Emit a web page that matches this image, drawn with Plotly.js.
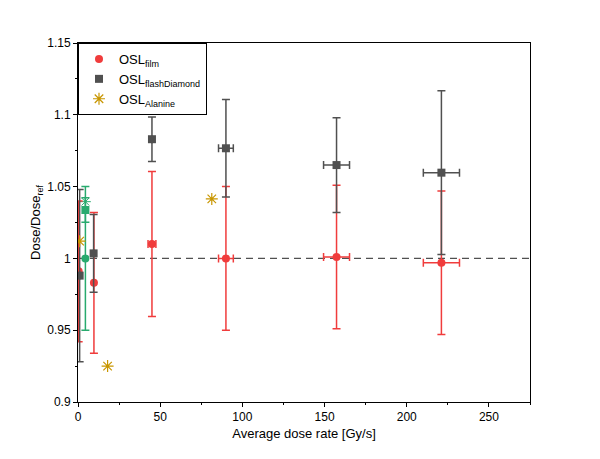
<!DOCTYPE html>
<html>
<head>
<meta charset="utf-8">
<script src="https://cdn.plot.ly/plotly-3.0.1.min.js"></script>
<style>
  html, body { margin: 0; padding: 0; background: #fff; }
  #chart { width: 600px; height: 459px; }
</style>
</head>
<body>
<div id="chart"></div>
<script>
// OSL film
const filmX = [0.4, 9.7, 45, 90, 157.3, 221.1];
const filmY = [0.991, 0.983, 1.010, 1.000, 1.001, 0.997];
const filmErrY = [0.049, 0.049, 0.0505, 0.05, 0.05, 0.05];
const filmErrX = [0, 0, 2.4, 4.5, 7.9, 11];

// OSL flashDiamond
const diamondX = [1, 9.5, 45, 90, 157.3, 221.1];
const diamondY = [0.988, 1.0035, 1.083, 1.0767, 1.065, 1.0597];
const diamondErrY = [0.06, 0.027, 0.0155, 0.034, 0.033, 0.057];
const diamondErrX = [0, 0, 0, 4.5, 7.9, 11];

// OSL Alanine
const alanineX = [1, 18, 81.4];
const alanineY = [1.012, 0.925, 1.0414];

// green points near zero dose rate (not in legend)
const greenSqX = [4.5];
const greenSqY = [1.0337];
const greenSqErr = [0.0085];
const greenCircX = [4.5];
const greenCircY = [1.000];
const greenCircErr = [0.05];
const greenStarX = [4.5];
const greenStarY = [1.0395];

// reference line
const refX = [0, 275];
const refY = [1, 1];

const red = 'rgb(240,60,60)';
const gray = 'rgb(80,80,80)';
const green = 'rgb(40,170,110)';
const gold = 'rgb(200,150,0)';

const sub = t => '<sub><span style="font-size:9px">' + t + '</span></sub>';

const data = [
  {
    x: refX, y: refY, mode: 'lines', showlegend: false, hoverinfo: 'skip',
    line: { color: gray, width: 1.3, dash: '7px,5px' }
  },
  {
    x: greenCircX, y: greenCircY, mode: 'markers', showlegend: false,
    marker: { symbol: 'circle', size: 8, color: green },
    error_y: { type: 'data', array: greenCircErr, color: green, thickness: 1.5, width: 4 }
  },
  {
    x: greenSqX, y: greenSqY, mode: 'markers', showlegend: false,
    marker: { symbol: 'square', size: 8, color: green },
    error_y: { type: 'data', array: greenSqErr, color: green, thickness: 1.5, width: 4 }
  },
  {
    x: greenStarX, y: greenStarY, mode: 'markers', showlegend: false,
    marker: { symbol: 'asterisk-open', size: 9, color: green, line: { color: green, width: 1 } }
  },
  {
    x: filmX, y: filmY, mode: 'markers', name: 'OSL' + sub('film'),
    marker: { symbol: 'circle', size: 8, color: red },
    error_y: { type: 'data', array: filmErrY, color: red, thickness: 1.5, width: 4 },
    error_x: { type: 'data', array: filmErrX, color: red, thickness: 1.5, width: 4 }
  },
  {
    x: diamondX, y: diamondY, mode: 'markers', name: 'OSL' + sub('flashDiamond'),
    marker: { symbol: 'square', size: 8, color: gray },
    error_y: { type: 'data', array: diamondErrY, color: gray, thickness: 1.5, width: 4 },
    error_x: { type: 'data', array: diamondErrX, color: gray, thickness: 1.5, width: 4 }
  },
  {
    x: alanineX, y: alanineY, mode: 'markers', name: 'OSL' + sub('Alanine'),
    marker: { symbol: 'asterisk-open', size: 10, color: gold, line: { color: gold, width: 1.2 } }
  }
];

const fam = 'Liberation Sans, Arial, sans-serif';
const axisFont = { family: fam, size: 12, color: '#000' };

const layout = {
  width: 600,
  height: 459,
  margin: { l: 78, r: 70, t: 43, b: 57 },
  paper_bgcolor: '#fff',
  plot_bgcolor: '#fff',
  font: axisFont,
  showlegend: true,
  legend: {
    x: 0, y: 1, xanchor: 'left', yanchor: 'top',
    bgcolor: '#fff', bordercolor: '#000', borderwidth: 1,
    font: { family: fam, size: 13, color: '#000' },
    tracegroupgap: 0, itemwidth: 30
  },
  xaxis: {
    range: [0, 275],
    dtick: 50,
    tick0: 0,
    showgrid: false,
    zeroline: false,
    showline: true,
    linecolor: '#000',
    linewidth: 1,
    mirror: true,
    ticks: 'outside',
    ticklen: 4,
    tickcolor: '#000',
    minor: { dtick: 25, ticks: 'outside', ticklen: 2, tickcolor: '#000' },
    tickfont: axisFont,
    title: { text: 'Average dose rate [Gy/s]', font: { family: fam, size: 13, color: '#000' }, standoff: 5 }
  },
  yaxis: {
    range: [0.9, 1.15],
    dtick: 0.05,
    tick0: 0.9,
    showgrid: false,
    zeroline: false,
    showline: true,
    linecolor: '#000',
    linewidth: 1,
    mirror: true,
    ticks: 'outside',
    ticklen: 4,
    tickcolor: '#000',
    minor: { dtick: 0.025, ticks: 'outside', ticklen: 2, tickcolor: '#000' },
    tickfont: axisFont,
    title: { text: 'Dose/Dose' + sub('ref'), font: { family: fam, size: 13, color: '#000' }, standoff: 3 }
  }
};

Plotly.newPlot('chart', data, layout, { displayModeBar: false, staticPlot: true });
</script>
</body>
</html>
